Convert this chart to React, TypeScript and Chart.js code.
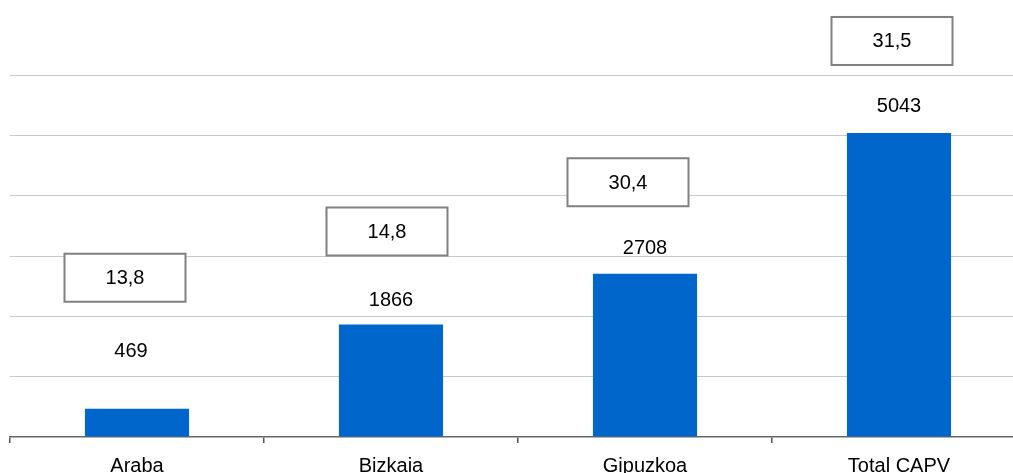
import React, { useEffect, useRef } from "react";
import { Chart, registerables } from "chart.js";

Chart.register(...registerables);

const categories = ["Araba", "Bizkaia", "Gipuzkoa", "Total CAPV"];
const counts = [469, 1866, 2708, 5043];
const rates = [13.8, 14.8, 30.4, 31.5];
const yTicksMax = 7000;

// label placement styling (pixels relative to bar top / bar center)
const valueRise = [57, 24, 25, 26];
const valueDx = [-6, 0, 0, 0];
const boxRise = [131, 93, 91.5, 92];
const boxDx = [-12, -4, -17, -7];

const FONT = "Liberation Sans, Arial, sans-serif";

const labelPlugin = {
  id: "labelPlugin",
  afterDatasetsDraw(chart: any) {
    const ctx = chart.ctx;
    const meta = chart.getDatasetMeta(0);
    ctx.save();
    ctx.font = `20px ${FONT}`;
    ctx.textAlign = "center";
    ctx.textBaseline = "middle";
    meta.data.forEach((bar: any, i: number) => {
      const x = bar.x;
      const top = bar.y;
      ctx.fillStyle = "#000";
      ctx.fillText(String(counts[i]), x + valueDx[i], top - valueRise[i]);
      const bw = 121;
      const bh = 48;
      const cx = x + boxDx[i];
      const cy = top - boxRise[i];
      ctx.fillStyle = "#fff";
      ctx.fillRect(cx - bw / 2, cy - bh / 2, bw, bh);
      ctx.strokeStyle = "#808080";
      ctx.lineWidth = 2;
      ctx.strokeRect(cx - bw / 2, cy - bh / 2, bw, bh);
      ctx.fillStyle = "#000";
      ctx.fillText(rates[i].toFixed(1).replace(".", ","), cx, cy + 1);
    });
    ctx.restore();
  },
};

export default function App() {
  const ref = useRef<HTMLCanvasElement>(null);
  useEffect(() => {
    if (!ref.current) return;
    const chart = new Chart(ref.current, {
      type: "bar",
      data: {
        labels: categories,
        datasets: [
          {
            data: counts,
            backgroundColor: "#0066CC",
            borderWidth: 0,
            categoryPercentage: 1,
            barPercentage: 0.41,
          },
        ],
      },
      options: {
        animation: false,
        responsive: false,
        devicePixelRatio: 1,
        layout: { padding: { left: 10, top: 15, right: 14, bottom: 0 } },
        plugins: { legend: { display: false }, tooltip: { enabled: false } },
        scales: {
          x: {
            offset: true,
            grid: {
              display: true,
              drawOnChartArea: false,
              drawTicks: true,
              tickLength: 6,
              color: "#555",
              lineWidth: 1.5,
              offset: true,
            },
            border: { display: true, color: "#666", width: 1.5 },
            ticks: {
              color: "#000",
              font: { family: FONT, size: 20 },
              padding: 11,
              maxRotation: 0,
            },
            afterFit: (s: any) => {
              s.height = 43;
            },
          },
          y: {
            min: 0,
            max: yTicksMax,
            ticks: { display: false, stepSize: 1000 },
            border: { display: false },
            grid: {
              drawTicks: false,
              lineWidth: 1,
              color: (c: any) =>
                c.tick && (c.tick.value === 0 || c.tick.value === yTicksMax)
                  ? "rgba(0,0,0,0)"
                  : "#c8c8c8",
            },
            afterFit: (s: any) => {
              s.width = 0;
            },
          },
        },
      },
      plugins: [labelPlugin],
    });
    return () => chart.destroy();
  }, []);
  return (
    <div
      style={{
        position: "fixed",
        left: 0,
        top: 0,
        width: 1013,
        height: 473,
        overflow: "hidden",
        background: "#fff",
      }}
    >
      <canvas ref={ref} width={1040} height={480} style={{ display: "block" }} />
    </div>
  );
}
